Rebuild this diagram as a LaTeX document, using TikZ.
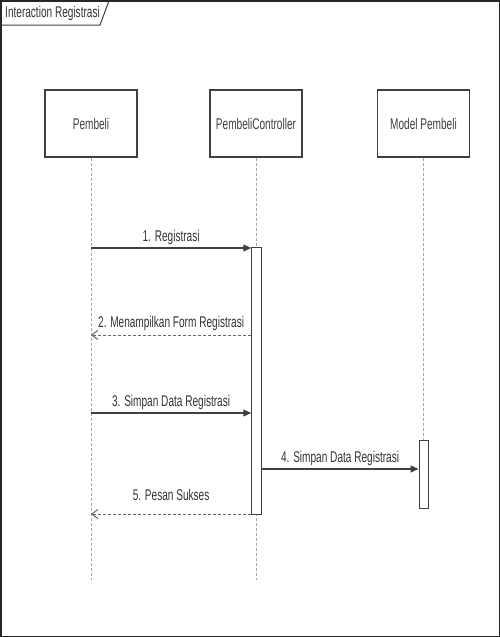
\documentclass[tikz,border=0pt]{standalone}
\usepackage{fontspec}
\setmainfont{Liberation Sans}
\newfontfamily\nf[FakeStretch=0.65]{Liberation Sans}
\usetikzlibrary{arrows.meta}
\begin{document}
\begin{tikzpicture}[x=1pt,y=-1pt,
  lbl/.style={font=\nf\fontsize{15.5}{16}\selectfont, text=black!80, inner sep=1pt},
  objbox/.style={draw=black!75, line width=1.2pt, fill=white, minimum width=92pt, minimum height=67pt, font=\nf\fontsize{15.5}{16}\selectfont, text=black!75},
  life/.style={draw=black!35, dashed, dash pattern=on 3pt off 2pt, line width=0.8pt},
  actbox/.style={draw=black!75, line width=1pt, fill=white},
  msg/.style={draw=black!75, line width=1.2pt, -{Triangle[length=8pt,width=7pt]}},
  ret/.style={draw=black!60, line width=1pt, dashed, dash pattern=on 3pt off 2pt, -{Straight Barb[length=6pt,width=9pt]}}]
\useasboundingbox (0,0) rectangle (500,637);
% frame
\draw[black!85, line width=1.5pt] (0.75,0.75) rectangle (499.25,636.25);
\draw[black!75, line width=1pt] (0.75,25) -- (100,25) -- (109,0.75);
\node[lbl, anchor=west] (title) at (4,13) {Interaction Registrasi};
% objects
\node[objbox] (p) at (91,123.5) {Pembeli};
\node[objbox] (c) at (256,123.5) {PembeliController};
\node[objbox] (m) at (423.5,123.5) {Model Pembeli};
% lifeline ends
\coordinate (pend) at (91,580);
\coordinate (cend) at (256,580);
\draw[life] (p.south) -- (pend);
\draw[life] (c.south) -- (cend);
\draw[life] (m.south) -- (423.5,440);
% activations
\node[actbox, minimum width=9.5pt, minimum height=267pt, inner sep=0pt, anchor=north] (ca) at (256.5,247) {};
\node[actbox, minimum width=9pt, minimum height=68pt, inner sep=0pt, anchor=north] (ma) at (423.5,440) {};
% message anchors
\coordinate (p1) at (91,248);
\coordinate (p2) at (91,335);
\coordinate (p3) at (91,413);
\coordinate (p5) at (91,514);
% messages
\draw[msg] (p1) -- (ca.west |- p1) node[lbl, midway, above=2pt] {1. Registrasi};
\draw[ret] (ca.west |- p2) -- (p2) node[lbl, midway, above=3pt] {2. Menampilkan Form Registrasi};
\draw[msg] (p3) -- (ca.west |- p3) node[lbl, midway, above=2pt] {3. Simpan Data Registrasi};
\draw[msg] (ca.east |- 0,469) -- (ma.west |- 0,469) node[lbl, midway, above=2pt] {4. Simpan Data Registrasi};
\draw[ret] (ca.west |- p5) -- (p5) node[lbl, midway, above=12pt] {5. Pesan Sukses};
\end{tikzpicture}
\end{document}
